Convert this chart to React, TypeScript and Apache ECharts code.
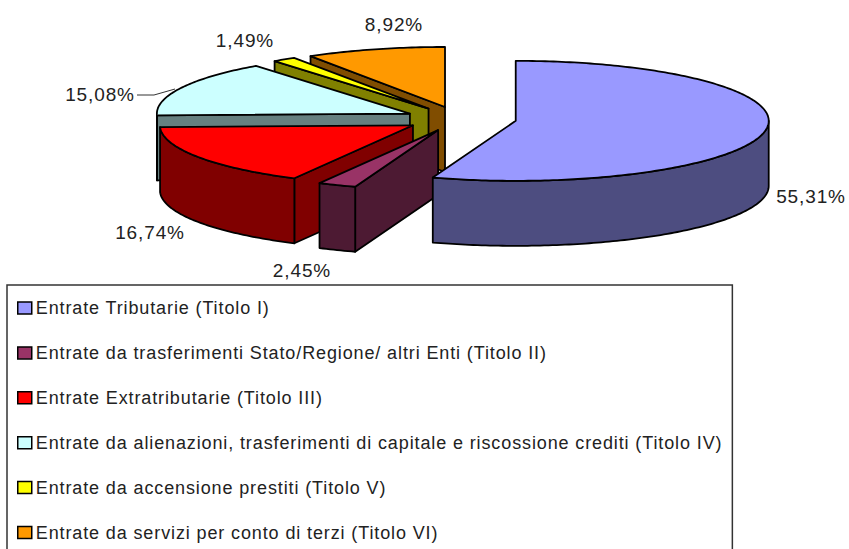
import React, { useEffect, useRef } from "react";
import * as echarts from "echarts";

const categories = [
  "Entrate Tributarie (Titolo I)",
  "Entrate da trasferimenti Stato/Regione/ altri Enti (Titolo II)",
  "Entrate Extratributarie (Titolo III)",
  "Entrate da alienazioni, trasferimenti di capitale e riscossione crediti (Titolo IV)",
  "Entrate da accensione prestiti (Titolo V)",
  "Entrate da servizi per conto di terzi (Titolo VI)",
];
const values = [55.31, 2.45, 16.74, 15.08, 1.49, 8.92];
const percentLabels = ["55,31%", "2,45%", "16,74%", "15,08%", "1,49%", "8,92%"];
const topColors = ["#9999FF", "#993366", "#FF0000", "#CCFFFF", "#FFFF00", "#FF9900"];
const sideColors = ["#4D4D80", "#4D1A33", "#800000", "#668080", "#808000", "#804D00"];
const labelCenters = [[811, 196], [302, 270], [150, 232], [100, 94], [245, 40], [394, 24]];

const RX = 253, RY = 60, DEPTH = 65, CX = 460.5, CY = 118.8, EXPLODE_X = 56, EXPLODE_Y = 12.3;
const FONT = "'Liberation Sans', Arial, sans-serif";

const total = values.reduce((a, b) => a + b, 0);
const starts: number[] = [];
values.reduce((acc, v, i) => { starts[i] = acc; return acc + v; }, 0);

function renderSlice(index: number) {
  return () => {
    const a0 = (starts[index] / total) * 2 * Math.PI;
    const a1 = ((starts[index] + values[index]) / total) * 2 * Math.PI;
    const mid = (a0 + a1) / 2;
    const cx = CX + EXPLODE_X * Math.sin(mid);
    const cy = CY - EXPLODE_Y * Math.cos(mid);
    const pt = (a: number, d = 0): number[] => [cx + RX * Math.sin(a), cy - RY * Math.cos(a) + d];
    const stroke = { stroke: "#000", lineWidth: 1.8, lineJoin: "round" };
    const children: any[] = [];
    const poly = (points: number[][], fill: string) =>
      children.push({ type: "polygon", shape: { points }, style: { fill, ...stroke } });
    const side = sideColors[index];
    // radial cut at the start of the slice, seen when it faces the viewer
    if (a0 > Math.PI && a0 < 2 * Math.PI) {
      poly([[cx, cy], pt(a0), pt(a0, DEPTH), [cx, cy + DEPTH]], side);
    }
    // outer wall: only the front half of the rim
    const w0 = Math.max(a0, Math.PI / 2);
    const w1 = Math.min(a1, (3 * Math.PI) / 2);
    if (w1 > w0) {
      const upper: number[][] = [];
      const lower: number[][] = [];
      const n = Math.max(4, Math.ceil((w1 - w0) * 60));
      for (let k = 0; k <= n; k++) {
        const a = w0 + ((w1 - w0) * k) / n;
        upper.push(pt(a));
        lower.unshift(pt(a, DEPTH));
      }
      poly([...upper, ...lower], side);
    }
    // top face
    const top: number[][] = [[cx, cy]];
    const m = Math.max(4, Math.ceil((a1 - a0) * 60));
    for (let k = 0; k <= m; k++) top.push(pt(a0 + ((a1 - a0) * k) / m));
    poly(top, topColors[index]);
    return { type: "group", children };
  };
}

export default function App() {
  const ref = useRef<HTMLDivElement>(null);
  useEffect(() => {
    document.body.style.margin = "0";
    const chart = echarts.init(ref.current!, undefined, { renderer: "svg" });
    const drawOrder = [5, 4, 3, 2, 1, 0];
    chart.setOption({
      animation: false,
      backgroundColor: "#fff",
      legend: {
        orient: "vertical",
        left: 7,
        top: 285,
        height: 290,
        padding: [14, 83, 14, 10],
        itemWidth: 14,
        itemHeight: 12,
        itemGap: 26.9,
        icon: "rect",
        borderColor: "#333",
        borderWidth: 1.5,
        selectedMode: false,
        data: categories,
        textStyle: { fontFamily: FONT, fontSize: 18, color: "#222", padding: [0, 0, 0, -1], lineHeight: 18 },
        itemStyle: { borderColor: "#000", borderWidth: 1.5 },
      },
      series: drawOrder.map((i) => ({
        type: "custom",
        name: categories[i],
        coordinateSystem: "none",
        silent: true,
        data: [values[i]],
        itemStyle: { color: topColors[i] },
        renderItem: renderSlice(i),
      })),
      graphic: [
        ...percentLabels.map((t, i) => ({
          type: "text",
          x: labelCenters[i][0],
          y: labelCenters[i][1],
          style: { text: t, fontFamily: FONT, fontSize: 19, fill: "#222", align: "center", verticalAlign: "middle" },
        })),
        {
          type: "polyline",
          shape: { points: [[137, 95], [154, 95], [175, 89]] },
          style: { stroke: "#333", lineWidth: 1, fill: "none" },
        },
      ],
    });
    return () => chart.dispose();
  }, []);
  return <div ref={ref} style={{ width: 849, height: 549, letterSpacing: "0.88px" }} />;
}
